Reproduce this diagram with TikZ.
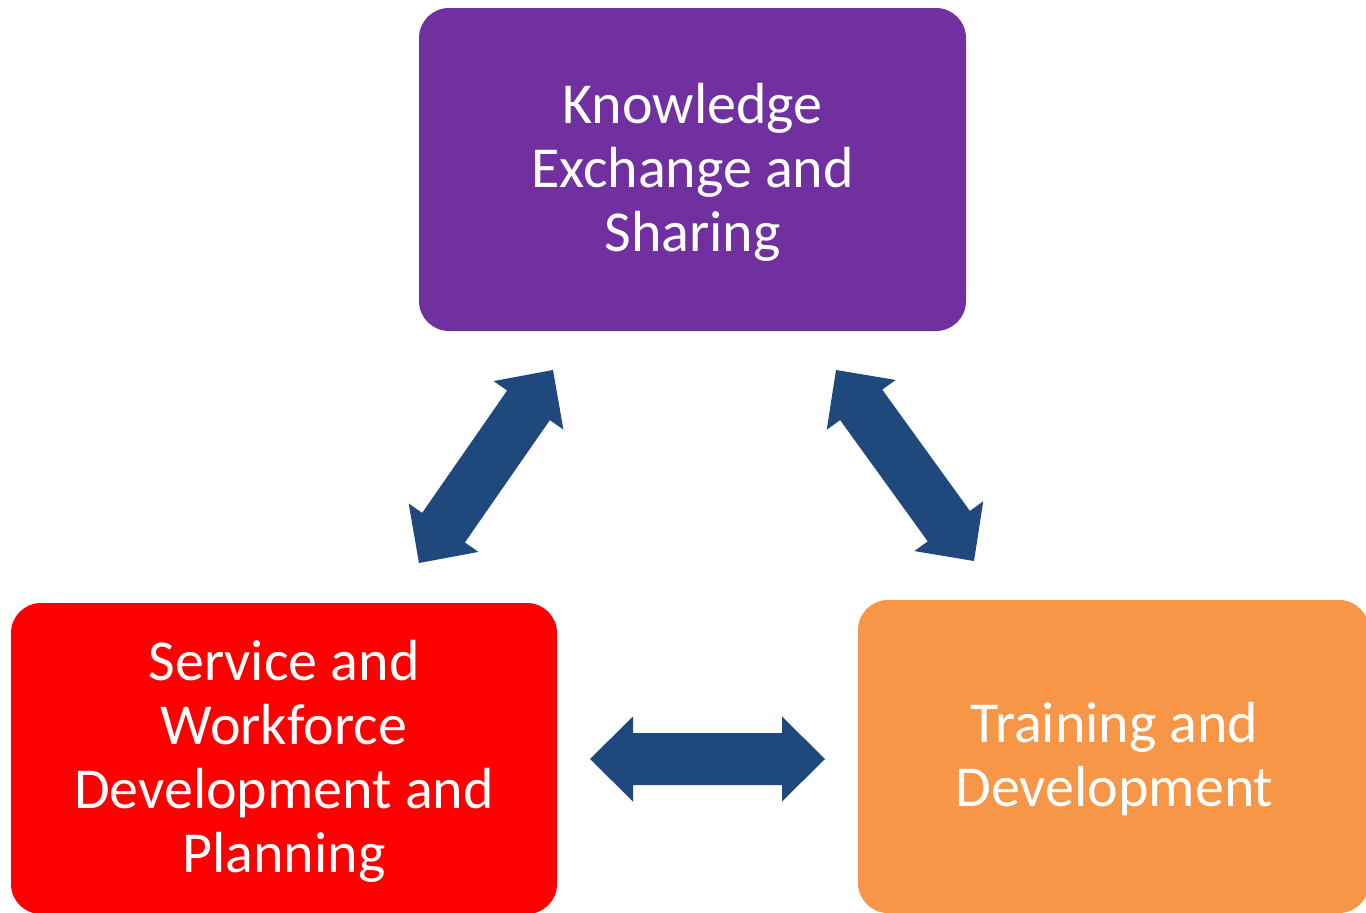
\documentclass[tikz,border=0pt]{standalone}
\usepackage{fontspec}
\setmainfont{Carlito}
\usetikzlibrary{calc}
\definecolor{kpurple}{HTML}{7030A0}
\definecolor{kred}{HTML}{FF0000}
\definecolor{korange}{HTML}{F79646}
\definecolor{kblue}{HTML}{1F497D}
\tikzset{
  box/.style={rectangle, rounded corners=30pt, inner sep=0pt},
  boxtext/.style={text=white, align=center, inner sep=0pt,
    font=\fontsize{58}{64}\selectfont},
  barrow/.style={fill=kblue, draw=none},
}
\newcommand{\blockarrow}[2]{%
  \fill[barrow]
    (#1)
    -- ($($(#1)!43pt!(#2)$)!42.5pt!90:(#2)$)
    -- ($($(#1)!43pt!(#2)$)!26pt!90:(#2)$)
    -- ($($(#2)!43pt!(#1)$)!26pt!-90:(#1)$)
    -- ($($(#2)!43pt!(#1)$)!42.5pt!-90:(#1)$)
    -- (#2)
    -- ($($(#2)!43pt!(#1)$)!42.5pt!90:(#1)$)
    -- ($($(#2)!43pt!(#1)$)!26pt!90:(#1)$)
    -- ($($(#1)!43pt!(#2)$)!26pt!-90:(#2)$)
    -- ($($(#1)!43pt!(#2)$)!42.5pt!-90:(#2)$)
    -- cycle;}
\begin{document}
\begin{tikzpicture}[x=1pt,y=-1pt]
\useasboundingbox (0,0) rectangle (1366,913);
\clip (0,0) rectangle (1366,913);
\node[box, fill=kpurple, minimum width=547pt, minimum height=323pt,
  label={[boxtext, yshift=-3pt]center:Knowledge\\Exchange and\\Sharing}] (know) at (692.5,169.5) {};
\node[box, fill=kred, minimum width=546pt, minimum height=311pt,
  label={[boxtext, yshift=-3pt]center:Service and\\Workforce\\Development and\\Planning}] (serv) at (284,758.5) {};
\node[box, fill=korange, minimum width=511pt, minimum height=313pt,
  label={[boxtext, yshift=-3pt, xshift=1pt]center:Training and\\Development}] (train) at (1113.5,756.5) {};
\coordinate (l1) at (553,370);
\coordinate (l2) at (419,563);
\coordinate (r1) at (836,370);
\coordinate (r2) at (974,561);
\coordinate (h1) at (590,759);
\coordinate (h2) at (825,759);
\blockarrow{l1}{l2}
\blockarrow{r1}{r2}
\blockarrow{h1}{h2}
\end{tikzpicture}
\end{document}
